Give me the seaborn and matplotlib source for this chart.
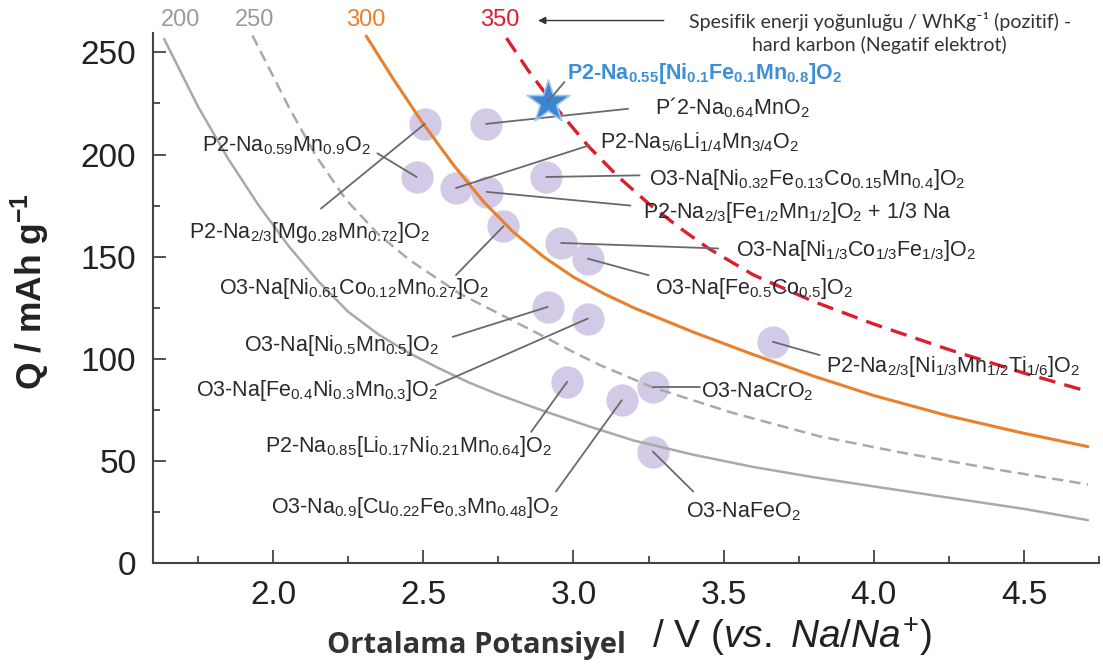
import matplotlib
matplotlib.use("Agg")
import matplotlib.pyplot as plt
from matplotlib.ticker import MultipleLocator
import seaborn as sns

# ------------------------------
# Values
# ------------------------------
# iso specific-energy curves (Wh/kg), sampled along each drawn line
curve_200_v = [1.637, 1.75, 1.85, 1.95, 2.05, 2.15, 2.25, 2.35, 2.45, 2.55, 2.65, 2.75, 2.9, 3.05, 3.2,
               3.4, 3.6, 3.8, 4.0, 4.25, 4.5, 4.713]
curve_200_q = [256.6, 223.5, 198, 175.5, 155.5, 138, 123, 112, 103, 95.5, 88.5, 82.5, 74.5, 67, 60,
               53, 47, 42, 37.5, 32, 26.5, 21]

curve_250_v = [1.931, 2.053, 2.142, 2.242, 2.35, 2.453, 2.62, 2.78, 2.913, 3.003, 3.087, 3.264, 3.53, 3.82, 4.077, 4.4, 4.713]
curve_250_q = [258.3, 223, 199.5, 178, 161, 148.5, 132, 120, 110, 103, 97, 86, 73.5, 62, 54.5, 46, 38.5]

curve_300_v = [2.31, 2.4, 2.5, 2.6, 2.7, 2.8, 2.9, 3.0, 3.1, 3.2, 3.4, 3.6, 3.8, 4.0, 4.25, 4.5, 4.713]
curve_300_q = [258, 237, 215, 195, 177, 162, 150, 140, 132, 125, 113, 102, 91.5, 82, 72, 63.5, 57]

curve_350_v = [2.777, 2.85, 2.95, 3.05, 3.15, 3.25, 3.35, 3.45, 3.6, 3.8, 4.0, 4.25, 4.5, 4.713]
curve_350_q = [257, 241, 221.5, 204, 189, 176, 164.5, 154, 141, 128, 117, 104.5, 93, 84]

curve_names = ["200", "250", "300", "350"]
curve_name_v = [1.693, 1.937, 2.31, 2.753]

# cathode materials: average potential (V) and capacity (mAh/g)
materials = [
    r"P2-Na$_{0.59}$Mn$_{0.9}$O$_2$",
    r"P2-Na$_{2/3}$[Mg$_{0.28}$Mn$_{0.72}$]O$_2$",
    r"O3-Na[Ni$_{0.61}$Co$_{0.12}$Mn$_{0.27}$]O$_2$",
    r"O3-Na[Ni$_{0.5}$Mn$_{0.5}$]O$_2$",
    r"O3-Na[Fe$_{0.4}$Ni$_{0.3}$Mn$_{0.3}$]O$_2$",
    r"P2-Na$_{0.85}$[Li$_{0.17}$Ni$_{0.21}$Mn$_{0.64}$]O$_2$",
    r"O3-Na$_{0.9}$[Cu$_{0.22}$Fe$_{0.3}$Mn$_{0.48}$]O$_2$",
    r"O3-NaFeO$_2$",
    r"O3-NaCrO$_2$",
    r"P2-Na$_{2/3}$[Ni$_{1/3}$Mn$_{1/2}$Ti$_{1/6}$]O$_2$",
    r"O3-Na[Fe$_{0.5}$Co$_{0.5}$]O$_2$",
    r"O3-Na[Ni$_{1/3}$Co$_{1/3}$Fe$_{1/3}$]O$_2$",
    r"P2-Na$_{2/3}$[Fe$_{1/2}$Mn$_{1/2}$]O$_2$ + 1/3 Na",
    r"O3-Na[Ni$_{0.32}$Fe$_{0.13}$Co$_{0.15}$Mn$_{0.4}$]O$_2$",
    r"P2-Na$_{5/6}$Li$_{1/4}$Mn$_{3/4}$O$_2$",
    r"P´2-Na$_{0.64}$MnO$_2$",
]
mat_v = [2.478, 2.505, 2.767, 2.914, 3.048, 2.979, 3.161, 3.264, 3.264, 3.664, 3.048, 2.959, 2.711, 2.909, 2.609, 2.709]
mat_q = [189, 215, 164.9, 125.4, 119.7, 88.7, 79.7, 54.6, 86, 108.3, 149, 156.7, 181.7, 189, 183.6, 215]

star_name = r"P2-Na$_{0.55}$[Ni$_{0.1}$Fe$_{0.1}$Mn$_{0.8}$]O$_2$"
star_v = [2.914]
star_q = [225.7]

# label placement (text anchor and leader-line end near the text)
lab_v = [2.327, 2.12, 2.27, 2.227, 2.147, 2.45, 2.473, 3.565, 3.425, 3.84, 3.273, 3.54, 3.232, 3.25, 3.09, 3.273]
lab_q = [204.5, 162, 134.5, 106.7, 84.6, 57.2, 27, 25, 84, 96.4, 134.5, 153, 171.7, 188, 206, 223]
lab_ha = ["right", "center", "center", "center", "center", "center", "center", "center",
          "left", "left", "left", "left", "left", "left", "left", "left"]
lead_v = [2.347, 2.159, 2.609, 2.598, 2.542, 2.859, 2.942, 3.399, 3.42, 3.82, 3.25, 3.482, 3.19, 3.22, 3.053, 3.182]
lead_q = [200.6, 173.5, 141, 110.7, 87, 64.2, 35, 35, 86, 101.8, 140.9, 154, 175, 189.8, 204.5, 222.4]

# ------------------------------
# Style
# ------------------------------
sns.set_theme(style="ticks")
plt.rcParams["font.family"] = ["Liberation Sans", "DejaVu Sans"]
plt.rcParams["mathtext.fontset"] = "custom"
plt.rcParams["mathtext.rm"] = "Liberation Sans"
plt.rcParams["mathtext.it"] = "Liberation Sans:italic"
plt.rcParams["mathtext.bf"] = "Liberation Sans:bold"
plt.rcParams["mathtext.default"] = "regular"

fig = plt.figure(figsize=(11.03, 6.69), dpi=100)
ax = fig.add_axes([0.1387, 0.1584, 0.8577, 0.7923])

# ------------------------------
# Iso-energy curves
# ------------------------------
curves = [
    (curve_200_v, curve_200_q, "#a9a9a9", 1.8, None),
    (curve_250_v, curve_250_q, "#a9a9a9", 1.8, (4.5, 2.5)),
    (curve_300_v, curve_300_q, "#e8802c", 2.2, None),
    (curve_350_v, curve_350_q, "#dc1e2e", 2.4, (5, 2.8)),
]
name_colors = ["#9a9a9a", "#9a9a9a", "#e8802c", "#dc1e2e"]
for (cv, cq, col, lw, dash) in curves:
    sns.lineplot(x=cv, y=cq, sort=False, estimator=None, color=col, lw=lw, ax=ax, zorder=2)
    ax.lines[-1].set_solid_joinstyle("round")
    if dash is not None:
        ax.lines[-1].set_dashes(dash)

for name, nv, col in zip(curve_names, curve_name_v, name_colors):
    ax.text(nv, 266, name, color=col, fontsize=17, ha="center", va="center", clip_on=False)

ax.annotate("", xy=(2.873, 265.6), xytext=(3.31, 265.6),
            arrowprops=dict(arrowstyle="-|>", color="#333333", lw=1.0, mutation_scale=11),
            annotation_clip=False)
ax.text(4.02, 265.2, "Spesifik enerji yoğunluğu / WhKg⁻¹ (pozitif) -", fontsize=14,
        family=["Lato", "DejaVu Sans"], color="#333333", ha="center", va="center", clip_on=False)
ax.text(4.02, 253.4, "hard karbon (Negatif elektrot)", fontsize=14,
        family=["Lato", "DejaVu Sans"], color="#333333", ha="center", va="center", clip_on=False)

# ------------------------------
# Materials
# ------------------------------
sns.scatterplot(x=mat_v, y=mat_q, s=540, color="#d3cae7", linewidth=0, ax=ax, zorder=1)
sns.scatterplot(x=star_v, y=star_q, marker="*", s=1050, color="#3a86d1",
                edgecolor="#9cc8ef", linewidth=1.2, ax=ax, zorder=4)

for i, name in enumerate(materials):
    ax.plot([mat_v[i], lead_v[i]], [mat_q[i], lead_q[i]], color="#6a6a6a", lw=1.3, zorder=3)
    ax.text(lab_v[i], lab_q[i], name, fontsize=15.5, color="#2a2a2a",
            ha=lab_ha[i], va="center", zorder=5)

ax.plot([star_v[0], 2.97], [star_q[0], 235.5], color="#6a6a6a", lw=1.3, zorder=5)
ax.text(2.98, 239.7, star_name, fontsize=15.5, color="#3d8fd8", fontweight="bold",
        ha="left", va="center", zorder=5)

# ------------------------------
# Axes
# ------------------------------
ax.set_xlim(1.6, 4.75)
ax.set_ylim(0, 259.5)
ax.xaxis.set_major_locator(MultipleLocator(0.5))
ax.xaxis.set_minor_locator(MultipleLocator(0.25))
ax.yaxis.set_major_locator(MultipleLocator(50))
ax.yaxis.set_minor_locator(MultipleLocator(25))
ax.set_xticks([2.0, 2.5, 3.0, 3.5, 4.0, 4.5])
ax.set_xticklabels(["2.0", "2.5", "3.0", "3.5", "4.0", "4.5"])
ax.tick_params(which="both", direction="in", width=1.3, color="#444444",
               labelcolor="#222222", labelsize=24, pad=12)
ax.tick_params(which="major", length=9.5)
ax.tick_params(which="minor", length=5)
sns.despine(ax=ax)
for side in ["left", "bottom"]:
    ax.spines[side].set_color("#444444")
    ax.spines[side].set_linewidth(1.5)

fig.text(30 / 1103, 1 - 292 / 669, r"Q / mAh g$^{-1}$", rotation=90, fontsize=25.5,
         fontweight="bold", color="#222222", ha="center", va="center")
fig.text(626 / 1103, 1 - 645 / 669, "Ortalama Potansiyel", fontsize=21, fontweight="bold",
         family=["Open Sans", "DejaVu Sans"], color="#333333", ha="right", va="center")
fig.text(652 / 1103, 1 - 637 / 669, r"/ V ($\mathit{vs.}$ $\mathit{Na/Na^{+}}$)", fontsize=28,
         color="#222222", ha="left", va="center")

fig.savefig("out.png", dpi=100)
